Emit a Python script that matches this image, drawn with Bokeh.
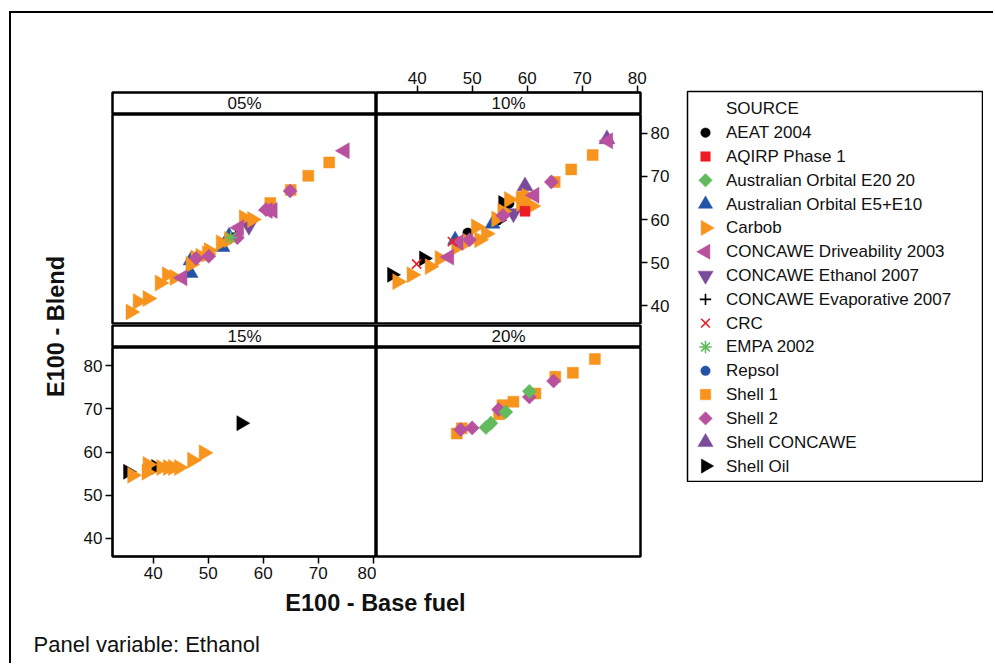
import math
from bokeh.plotting import figure
from bokeh.models import Range1d, LinearAxis, FixedTicker, Spacer
from bokeh.layouts import row, column
from bokeh.embed import file_html
from bokeh.resources import INLINE
from bokeh.core.properties import value

# ---------------- data ----------------
PANELS = ["05%", "10%", "15%", "20%"]
SOURCES = ["AEAT 2004", "AQIRP Phase 1", "Australian Orbital E20 20",
           "Australian Orbital E5+E10", "Carbob", "CONCAWE Driveability 2003",
           "CONCAWE Ethanol 2007", "CONCAWE Evaporative 2007", "CRC", "EMPA 2002",
           "Repsol", "Shell 1", "Shell 2", "Shell CONCAWE", "Shell Oil"]
X_TICKS = [40, 50, 60, 70, 80]
Y_TICKS = [40, 50, 60, 70, 80]
X_LIMITS = (32.6, 80.6)
Y_LIMITS = (35.7, 84.3)
LEGEND_TITLE = "SOURCE"
X_LABEL = "E100 - Base fuel"
Y_LABEL = "E100 - Blend"
NOTE = "Panel variable: Ethanol"

# 05% panel
p05_carbob_x = [35.9, 37.2, 39.0, 41.2, 42.5, 43.9, 46.8, 48.6, 50.1, 52.3, 56.5, 58.0, 53.8, 49.8, 47.7]
p05_carbob_y = [38.6, 41.0, 41.7, 45.3, 47.2, 46.6, 49.6, 51.5, 52.8, 54.6, 60.4, 60.0, 55.4, 52.0, 51.1]
p05_shell1_x = [72.0, 68.2, 65.0, 61.3]
p05_shell1_y = [73.2, 70.1, 66.8, 63.8]
p05_shell2_x = [64.9, 60.5, 55.3, 50.1, 47.8]
p05_shell2_y = [66.6, 62.3, 55.8, 51.5, 51.0]
p05_cdrive_x = [74.8, 60.8, 61.7, 45.3, 55.6]
p05_cdrive_y = [75.9, 62.1, 62.1, 46.5, 58.1]
p05_ceth_x = [57.4]
p05_ceth_y = [58.5]
p05_aus510_x = [52.6, 46.8, 46.8, 53.8]
p05_aus510_y = [53.6, 47.6, 50.5, 56.2]
p05_empa_x = [54.1]
p05_empa_y = [55.8]
p05_cevap_x = [55.0]
p05_cevap_y = [56.8]

# 10% panel
p10_shelloil_x = [35.4, 41.2, 55.6, 54.7]
p10_shelloil_y = [47.2, 51.0, 63.8, 59.8]
p10_carbob_x = [36.4, 39.0, 42.3, 44.1, 47.1, 49.2, 50.7, 52.5, 54.4, 56.7, 58.9, 59.9, 60.8, 55.5, 51.3]
p10_carbob_y = [45.6, 47.2, 49.1, 51.0, 53.5, 54.9, 58.3, 56.7, 60.1, 64.6, 63.7, 65.4, 63.1, 61.9, 55.3]
p10_shell1_x = [71.9, 68.0, 65.0, 59.0]
p10_shell1_y = [74.9, 71.6, 68.7, 65.2]
p10_shell2_x = [64.4, 55.6, 49.5]
p10_shell2_y = [68.7, 60.9, 55.3]
p10_cdrive_x = [74.7, 61.3, 45.8, 47.5]
p10_cdrive_y = [78.2, 65.6, 51.3, 54.7]
p10_ceth_x = [57.5]
p10_ceth_y = [61.4]
p10_shellcon_x = [59.6, 74.5]
p10_shellcon_y = [67.7, 78.6]
p10_aus510_x = [46.9, 53.7]
p10_aus510_y = [55.3, 59.0]
p10_aqirp_x = [59.6]
p10_aqirp_y = [61.9]
p10_crc_x = [39.9, 46.4]
p10_crc_y = [49.7, 54.9]
p10_aeat_x = [49.2, 56.7]
p10_aeat_y = [56.9, 63.7]
p10_cevap_x = [54.6, 55.0]
p10_cevap_y = [59.8, 60.1]

# 15% panel
p15_shelloil_x = [56.0, 35.4, 40.5]
p15_shelloil_y = [66.7, 55.4, 56.5]
p15_carbob_x = [36.2, 38.8, 39.0, 41.5, 42.7, 43.6, 44.7, 47.1, 49.2]
p15_carbob_y = [54.6, 55.3, 57.1, 56.4, 56.4, 56.4, 56.4, 58.1, 59.8]

# 20% panel
p20_shell1_x = [72.3, 68.3, 65.1, 61.5, 57.5, 55.5, 54.9, 48.1, 47.2]
p20_shell1_y = [81.6, 78.4, 77.5, 73.6, 71.7, 70.9, 68.8, 65.5, 64.3]
p20_shell2_x = [64.8, 60.4, 54.8, 50.0, 47.9]
p20_shell2_y = [76.5, 72.8, 69.9, 65.6, 65.2]
p20_aus20_x = [60.4, 56.1, 53.4, 52.5]
p20_aus20_y = [74.1, 69.3, 66.7, 65.7]

PANEL_DATA = {
    "05%": {"Carbob": (p05_carbob_x, p05_carbob_y), "Shell 1": (p05_shell1_x, p05_shell1_y),
            "Shell 2": (p05_shell2_x, p05_shell2_y), "CONCAWE Driveability 2003": (p05_cdrive_x, p05_cdrive_y),
            "CONCAWE Ethanol 2007": (p05_ceth_x, p05_ceth_y), "Australian Orbital E5+E10": (p05_aus510_x, p05_aus510_y),
            "EMPA 2002": (p05_empa_x, p05_empa_y), "CONCAWE Evaporative 2007": (p05_cevap_x, p05_cevap_y)},
    "10%": {"Shell Oil": (p10_shelloil_x, p10_shelloil_y), "Carbob": (p10_carbob_x, p10_carbob_y),
            "Shell 1": (p10_shell1_x, p10_shell1_y), "Shell 2": (p10_shell2_x, p10_shell2_y),
            "CONCAWE Driveability 2003": (p10_cdrive_x, p10_cdrive_y), "CONCAWE Ethanol 2007": (p10_ceth_x, p10_ceth_y),
            "Shell CONCAWE": (p10_shellcon_x, p10_shellcon_y), "Australian Orbital E5+E10": (p10_aus510_x, p10_aus510_y),
            "AQIRP Phase 1": (p10_aqirp_x, p10_aqirp_y), "CRC": (p10_crc_x, p10_crc_y),
            "AEAT 2004": (p10_aeat_x, p10_aeat_y), "CONCAWE Evaporative 2007": (p10_cevap_x, p10_cevap_y)},
    "15%": {"Shell Oil": (p15_shelloil_x, p15_shelloil_y), "Carbob": (p15_carbob_x, p15_carbob_y)},
    "20%": {"Shell 1": (p20_shell1_x, p20_shell1_y), "Shell 2": (p20_shell2_x, p20_shell2_y),
            "Australian Orbital E20 20": (p20_aus20_x, p20_aus20_y)},
}

# ---------------- styles ----------------
ORANGE = "#F7941E"
MAGENTA = "#B9519F"
PURPLE = "#7B4B9B"
BLUE = "#2453A5"
GREEN = "#62BB5E"
RED = "#EC1C24"
FONT = "Liberation Sans"
R = math.pi / 2

# marker, color, size, angle, filled
STYLE = {
    "AEAT 2004": ("circle", "black", 10, 0, True),
    "AQIRP Phase 1": ("square", RED, 10, 0, True),
    "Australian Orbital E20 20": ("square", GREEN, 10, math.pi / 4, True),
    "Australian Orbital E5+E10": ("triangle", BLUE, 15, 0, True),
    "Carbob": ("triangle", ORANGE, 16, -R, True),
    "CONCAWE Driveability 2003": ("triangle", MAGENTA, 16, R, True),
    "CONCAWE Ethanol 2007": ("inverted_triangle", PURPLE, 16, 0, True),
    "CONCAWE Evaporative 2007": ("cross", "black", 12, 0, False),
    "CRC": ("x", RED, 13, 0, False),
    "EMPA 2002": ("asterisk", GREEN, 13, 0, False),
    "Repsol": ("circle", BLUE, 10, 0, True),
    "Shell 1": ("square", ORANGE, 11, 0, True),
    "Shell 2": ("square", MAGENTA, 10, math.pi / 4, True),
    "Shell CONCAWE": ("triangle", PURPLE, 16, 0, True),
    "Shell Oil": ("triangle", "black", 15, -R, True),
}
DRAW_ORDER = ["Shell Oil", "AEAT 2004", "CONCAWE Evaporative 2007", "Shell CONCAWE",
              "Australian Orbital E5+E10", "CONCAWE Ethanol 2007", "Carbob", "Shell 1",
              "CONCAWE Driveability 2003", "Shell 2", "AQIRP Phase 1", "Repsol", "CRC",
              "EMPA 2002", "Australian Orbital E20 20"]


def draw_marker(p, src, xs, ys, scale=1.0):
    marker, color, size, angle, filled = STYLE[src]
    if filled:
        p.scatter(xs, ys, marker=marker, size=size * scale, angle=angle,
                  fill_color=color, line_color=color, line_width=0.5)
    else:
        p.scatter(xs, ys, marker=marker, size=size * scale, angle=angle,
                  line_color=color, line_width=1.6)


def base_fig(w, h, xr, yr, ml=0, mr=0, mt=0, mb=0, outline=True):
    p = figure(width=w, height=h, x_range=xr, y_range=yr, toolbar_location=None,
               output_backend="svg", x_axis_location=None, y_axis_location=None,
               min_border_left=ml, min_border_right=mr, min_border_top=mt, min_border_bottom=mb)
    p.xgrid.visible = False
    p.ygrid.visible = False
    p.background_fill_color = "white"
    p.border_fill_color = "white"
    if outline:
        p.outline_line_color = "black"
        p.outline_line_width = 2.5
    else:
        p.outline_line_color = None
    return p


def style_axis(ax, ticks, standoff=3):
    ax.ticker = FixedTicker(ticks=ticks)
    ax.major_tick_out = 7
    ax.major_tick_in = 0
    ax.minor_tick_out = 0
    ax.minor_tick_in = 0
    ax.axis_line_width = 1.5
    ax.axis_line_color = "black"
    ax.major_tick_line_width = 1.5
    ax.major_tick_line_color = "black"
    ax.major_label_text_font = FONT
    ax.major_label_text_font_size = "17px"
    ax.major_label_text_color = "#111111"
    ax.major_label_standoff = standoff


XR = Range1d(*X_LIMITS)
YR = Range1d(*Y_LIMITS)

FW, FH = 264, 210   # panel frame size
LB, RB, TB, BB = 40, 46, 32, 31


def strip(label, w, mt, ml, mr, top_axis=False):
    s = base_fig(w, 22 + mt, XR, Range1d(0, 1), ml=ml, mr=mr, mt=mt)
    s.text(x=[(XR.start + XR.end) / 2], y=[0.5], text=[label], text_align="center",
           text_baseline="middle", text_font=value(FONT), text_font_size="17px", text_color="#111111")
    if top_axis:
        ax = LinearAxis()
        style_axis(ax, X_TICKS, standoff=2)
        s.add_layout(ax, "above")
    return s


def panel(label, w, h, ml, mr, mb, left=False, right=False, bottom=False):
    p = base_fig(w, h, XR, YR, ml=ml, mr=mr, mb=mb)
    data = PANEL_DATA[label]
    for src in DRAW_ORDER:
        if src in data:
            draw_marker(p, src, *data[src])
    if left:
        ax = LinearAxis()
        style_axis(ax, Y_TICKS)
        p.add_layout(ax, "left")
    if right:
        ax = LinearAxis()
        style_axis(ax, Y_TICKS)
        p.add_layout(ax, "right")
    if bottom:
        ax = LinearAxis()
        style_axis(ax, X_TICKS)
        p.add_layout(ax, "below")
    return p


s05 = strip(PANELS[0], LB + FW, TB, LB, 0)
s10 = strip(PANELS[1], FW + RB, TB, 0, RB, top_axis=True)
p05 = panel(PANELS[0], LB + FW, FH, LB, 0, 0)
p10 = panel(PANELS[1], FW + RB, FH, 0, RB, 0, right=True)
s15 = strip(PANELS[2], LB + FW, 1, LB, 0)
s20 = strip(PANELS[3], FW + RB, 1, 0, RB)
p15 = panel(PANELS[2], LB + FW, 209 + BB, LB, 0, BB, left=True, bottom=True)
p20 = panel(PANELS[3], FW + RB, 209 + BB, 0, RB, BB)

left_col = column(s05, p05, s15, p15)
right_col = column(s10, p10, s20, p20)
COL_H = (22 + TB) + FH + 23 + (209 + BB)

# y label
yl = base_fig(61, COL_H, Range1d(0, 61), Range1d(0, COL_H), outline=False)
yl.text(x=[44], y=[COL_H - 266], text=[Y_LABEL], angle=math.pi / 2, text_align="center",
        text_baseline="middle", text_font=value(FONT), text_font_size="23.5px",
        text_font_style="bold", text_color="#111111")

# legend
LEG_W, LEG_H = 297, 392
leg = figure(width=LEG_W, height=LEG_H, x_range=Range1d(0, LEG_W - 2),
             y_range=Range1d(15.65, -0.73), toolbar_location=None, output_backend="svg",
             x_axis_location=None, y_axis_location=None,
             min_border_left=1, min_border_right=1, min_border_top=1, min_border_bottom=1)
leg.xgrid.visible = False
leg.ygrid.visible = False
leg.outline_line_color = "black"
leg.outline_line_width = 1.5
leg.text(x=[38.5], y=[0], text=[LEGEND_TITLE], text_align="left", text_baseline="middle",
         text_font=value(FONT), text_font_size="17px", text_color="#111111")
for i, src in enumerate(SOURCES):
    draw_marker(leg, src, [18], [i + 1], scale=0.95)
leg.text(x=[38.5] * len(SOURCES), y=list(range(1, len(SOURCES) + 1)), text=SOURCES,
         text_align="left", text_baseline="middle", text_font=value(FONT),
         text_font_size="17px", text_color="#111111")
leg_col = column(Spacer(width=LEG_W, height=30), leg)

# x label
XL_W = LB + FW + FW + RB
XL_H = 36
xl = base_fig(XL_W, XL_H, Range1d(0, XL_W), Range1d(0, XL_H), outline=False)
xl.text(x=[303], y=[XL_H - 15], text=[X_LABEL], text_align="center", text_baseline="middle",
        text_font=value(FONT), text_font_size="23.5px", text_font_style="bold", text_color="#111111")

# note
NT_H = 40
nt = base_fig(320, NT_H, Range1d(0, 320), Range1d(0, NT_H), outline=False)
nt.text(x=[22], y=[NT_H - 21], text=[NOTE], text_align="left", text_baseline="middle",
        text_font=value(FONT), text_font_size="22px", text_color="#111111")

root = column(
    Spacer(width=10, height=47),
    row(yl, left_col, right_col, leg_col, Spacer(width=10, height=10)),
    row(Spacer(width=61, height=XL_H), xl),
    nt,
    styles={"border-top": "2px solid black", "border-left": "2px solid black",
            "margin-left": "9px", "margin-top": "11px"},
)

open("out.html", "w").write(file_html(root, INLINE))
